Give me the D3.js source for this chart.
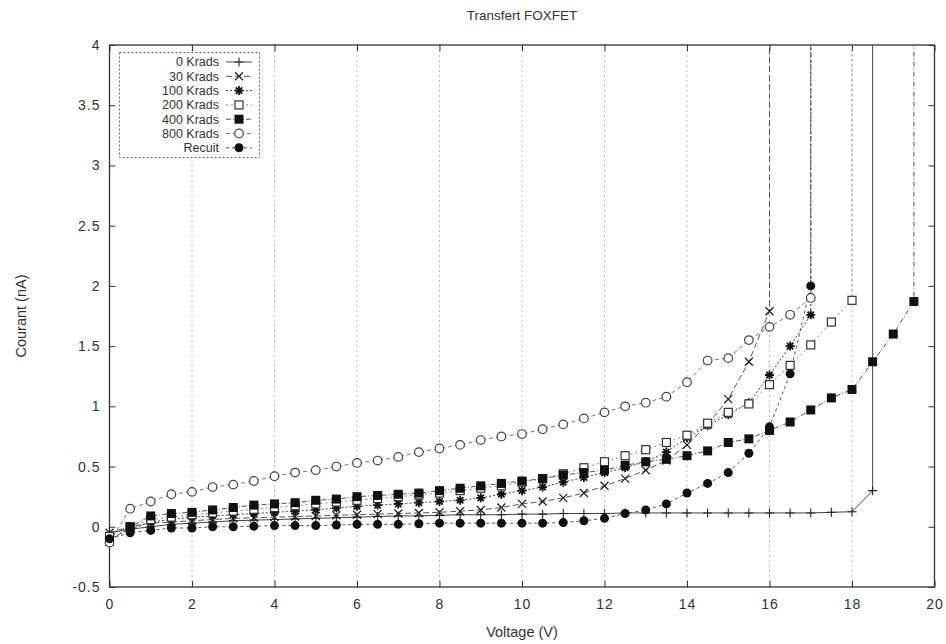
<!DOCTYPE html>
<html>
<head>
<meta charset="utf-8">
<script src="https://cdn.jsdelivr.net/npm/d3@7"></script>
<style>
	body { margin: 0; background: #fff; }
	svg text { font-family: "Liberation Sans", Arial, Helvetica, sans-serif; fill: #333; }
</style>
</head>
<body>
<div id="chart"></div>
<script>
// Transfert FOXFET - courant vs tension, 7 doses
var voltage = [0, 0.5, 1, 1.5, 2, 2.5, 3, 3.5, 4, 4.5, 5, 5.5, 6, 6.5, 7, 7.5, 8, 8.5, 9, 9.5,
	10, 10.5, 11, 11.5, 12, 12.5, 13, 13.5, 14, 14.5, 15, 15.5, 16, 16.5, 17, 17.5, 18, 18.5, 19, 19.5];

var seriesNames = ["0 Krads", "30 Krads", "100 Krads", "200 Krads", "400 Krads", "800 Krads", "Recuit"];

var krads0 = [-0.05, -0.02, 0.0, 0.02, 0.03, 0.04, 0.05, 0.055, 0.06, 0.065, 0.07, 0.075, 0.08, 0.085, 0.09, 0.09,
	0.095, 0.1, 0.1, 0.1, 0.105, 0.105, 0.11, 0.11, 0.11, 0.115, 0.115, 0.115, 0.115, 0.115, 0.115, 0.115,
	0.115, 0.115, 0.115, 0.12, 0.125, 0.3];
var krads30 = [-0.05, 0.0, 0.03, 0.04, 0.05, 0.06, 0.07, 0.075, 0.08, 0.085, 0.09, 0.095, 0.1, 0.105, 0.11, 0.115,
	0.12, 0.13, 0.14, 0.16, 0.19, 0.21, 0.24, 0.28, 0.34, 0.4, 0.47, 0.55, 0.68, 0.85, 1.06, 1.37, 1.79];
var krads100 = [-0.1, -0.02, 0.04, 0.06, 0.08, 0.09, 0.1, 0.11, 0.12, 0.13, 0.14, 0.155, 0.17, 0.18, 0.19, 0.2,
	0.21, 0.22, 0.24, 0.27, 0.3, 0.33, 0.37, 0.41, 0.45, 0.49, 0.54, 0.62, 0.74, 0.84, 0.93, 1.03, 1.26, 1.5, 1.76];
var krads200 = [-0.08, 0.0, 0.06, 0.08, 0.1, 0.115, 0.13, 0.145, 0.16, 0.175, 0.19, 0.205, 0.22, 0.235, 0.25, 0.265,
	0.28, 0.3, 0.32, 0.34, 0.37, 0.4, 0.44, 0.49, 0.54, 0.59, 0.64, 0.7, 0.76, 0.86, 0.95, 1.02, 1.18, 1.34, 1.51, 1.7, 1.88];
var krads400 = [-0.12, 0.0, 0.09, 0.11, 0.12, 0.14, 0.16, 0.18, 0.19, 0.2, 0.22, 0.23, 0.25, 0.26, 0.27, 0.28,
	0.3, 0.32, 0.34, 0.36, 0.38, 0.4, 0.43, 0.45, 0.47, 0.51, 0.54, 0.56, 0.59, 0.63, 0.7, 0.73, 0.8, 0.87, 0.97,
	1.07, 1.14, 1.37, 1.6, 1.87];
var krads800 = [-0.13, 0.15, 0.21, 0.27, 0.29, 0.33, 0.35, 0.38, 0.42, 0.45, 0.47, 0.5, 0.53, 0.55, 0.58, 0.62,
	0.65, 0.68, 0.72, 0.75, 0.77, 0.81, 0.85, 0.9, 0.95, 1.0, 1.03, 1.08, 1.2, 1.38, 1.4, 1.55, 1.66, 1.76, 1.9];
var recuit = [-0.1, -0.05, -0.03, -0.01, -0.01, 0.0, 0.0, 0.005, 0.01, 0.01, 0.01, 0.015, 0.02, 0.02, 0.02, 0.025,
	0.03, 0.03, 0.03, 0.03, 0.03, 0.03, 0.035, 0.05, 0.07, 0.11, 0.14, 0.19, 0.28, 0.36, 0.45, 0.61, 0.83, 1.27, 2.0];

// claquage : le courant sort du cadre a la derniere tension
var breakdownCurrent = 10;

var xTicks = [0, 2, 4, 6, 8, 10, 12, 14, 16, 18, 20];
var yTicks = [-0.5, 0, 0.5, 1, 1.5, 2, 2.5, 3, 3.5, 4];

var width = 946,
	height = 644,
	margin = {
		top : 45,
		right : 11.5,
		bottom : 57,
		left : 109.5
	};

var styles = [
	{ marker : "plus",    stroke : "#444", dash : null },
	{ marker : "cross",   stroke : "#555", dash : "6,3" },
	{ marker : "star",    stroke : "#444", dash : "2,2" },
	{ marker : "box",     stroke : "#888", dash : "2,3" },
	{ marker : "boxF",    stroke : "#555", dash : "5,2,1,2" },
	{ marker : "circle",  stroke : "#777", dash : "4,3" },
	{ marker : "circleF", stroke : "#555", dash : "3,3" }
];

var allValues = [krads0, krads30, krads100, krads200, krads400, krads800, recuit];

var series = allValues.map(function(vals, i) {
	var pts = vals.map(function(v, j) { return { x : voltage[j], y : v }; });
	pts.push({ x : voltage[vals.length - 1], y : breakdownCurrent });
	return { name : seriesNames[i], points : pts, style : styles[i] };
});

var svg = d3.select("#chart").append("svg")
	.attr("width", width)
	.attr("height", height);

var x = d3.scaleLinear().domain([0, 20]).range([margin.left, width - margin.right]);
var y = d3.scaleLinear().domain([-0.5, 4]).range([height - margin.bottom, margin.top]);

var pw = x(20) - x(0),
	ph = y(-0.5) - y(4);

svg.append("clipPath").attr("id", "plotClip")
	.append("rect")
	.attr("x", x(0)).attr("y", y(4))
	.attr("width", pw).attr("height", ph);

// grille verticale
svg.append("g").selectAll("line")
	.data(xTicks.filter(function(d) { return d > 0 && d < 20; }))
	.enter().append("line")
	.attr("x1", function(d) { return x(d); })
	.attr("x2", function(d) { return x(d); })
	.attr("y1", y(-0.5)).attr("y2", y(4))
	.attr("stroke", "#aaa")
	.attr("stroke-width", 0.8)
	.attr("stroke-dasharray", "2,3");

// axes
var xAxis = d3.axisBottom(x).tickValues(xTicks).tickSize(-6).tickPadding(12).tickFormat(d3.format("d"));
var yAxis = d3.axisLeft(y).tickValues(yTicks).tickSize(-6).tickPadding(9).tickFormat(function(d) { return String(d); });

var gx = svg.append("g").attr("transform", "translate(0," + y(-0.5) + ")").call(xAxis);
var gy = svg.append("g").attr("transform", "translate(" + x(0) + ",0)").call(yAxis);

svg.append("g").attr("transform", "translate(0," + y(4) + ")")
	.call(d3.axisTop(x).tickValues(xTicks).tickSize(-6).tickFormat(""));
svg.append("g").attr("transform", "translate(" + x(20) + ",0)")
	.call(d3.axisRight(y).tickValues(yTicks).tickSize(-6).tickFormat(""));

svg.selectAll(".domain").remove();
svg.selectAll(".tick line").attr("stroke", "#333").attr("stroke-width", 1);
svg.selectAll(".tick text")
	.style("font-size", "14px")
	.style("letter-spacing", "1px")
	.style("fill", "#333");

svg.append("rect")
	.attr("x", x(0)).attr("y", y(4))
	.attr("width", pw).attr("height", ph)
	.attr("fill", "none")
	.attr("stroke", "#333")
	.attr("stroke-width", 1.3);

// courbes
var line = d3.line()
	.x(function(d) { return x(d.x); })
	.y(function(d) { return y(d.y); });

var plot = svg.append("g").attr("clip-path", "url(#plotClip)");

series.forEach(function(s) {
	plot.append("path")
		.datum(s.points)
		.attr("d", line)
		.attr("fill", "none")
		.attr("stroke", s.style.stroke)
		.attr("stroke-width", 1)
		.attr("stroke-dasharray", s.style.dash);
});

function drawMarker(g, type, cx, cy) {
	var s = 4.5;
	switch(type) {
		case "plus":
			g.append("path").attr("d", "M" + (cx - s) + "," + cy + "H" + (cx + s) + "M" + cx + "," + (cy - s) + "V" + (cy + s))
				.attr("stroke", "#222").attr("stroke-width", 1.1);
			break;
		case "cross":
			g.append("path").attr("d", "M" + (cx - 4) + "," + (cy - 4) + "L" + (cx + 4) + "," + (cy + 4) +
				"M" + (cx - 4) + "," + (cy + 4) + "L" + (cx + 4) + "," + (cy - 4))
				.attr("stroke", "#222").attr("stroke-width", 1.3);
			break;
		case "star":
			g.append("path").attr("d", "M" + (cx - s) + "," + cy + "H" + (cx + s) + "M" + cx + "," + (cy - s) + "V" + (cy + s) +
				"M" + (cx - 3.2) + "," + (cy - 3.2) + "L" + (cx + 3.2) + "," + (cy + 3.2) +
				"M" + (cx - 3.2) + "," + (cy + 3.2) + "L" + (cx + 3.2) + "," + (cy - 3.2))
				.attr("stroke", "#111").attr("stroke-width", 1.8);
			break;
		case "box":
			g.append("rect").attr("x", cx - 4).attr("y", cy - 4).attr("width", 8).attr("height", 8)
				.attr("fill", "#fff").attr("stroke", "#333").attr("stroke-width", 1.2);
			break;
		case "boxF":
			g.append("rect").attr("x", cx - 4.5).attr("y", cy - 4.5).attr("width", 9).attr("height", 9)
				.attr("fill", "#111");
			break;
		case "circle":
			g.append("circle").attr("cx", cx).attr("cy", cy).attr("r", 4.3)
				.attr("fill", "#fff").attr("stroke", "#444").attr("stroke-width", 1.2);
			break;
		case "circleF":
			g.append("circle").attr("cx", cx).attr("cy", cy).attr("r", 4.5)
				.attr("fill", "#111");
			break;
	}
}

var marks = svg.append("g");
series.forEach(function(s) {
	s.points.forEach(function(p) {
		if (p.y > 4 || p.y < -0.5) return;
		drawMarker(marks, s.style.marker, x(p.x), y(p.y));
	});
});

// legende
var lg = svg.append("g");
lg.append("rect")
	.attr("x", 119.5).attr("y", 52.5)
	.attr("width", 140).attr("height", 105)
	.attr("fill", "#fff")
	.attr("stroke", "#666")
	.attr("stroke-width", 1)
	.attr("stroke-dasharray", "2,2");

series.forEach(function(s, i) {
	var ry = 62 + i * 14.3;
	lg.append("text")
		.attr("x", 219).attr("y", ry)
		.attr("dy", "0.35em")
		.attr("text-anchor", "end")
		.style("font-size", "12.5px")
		.text(s.name);
	lg.append("line")
		.attr("x1", 226).attr("x2", 252)
		.attr("y1", ry).attr("y2", ry)
		.attr("stroke", s.style.stroke)
		.attr("stroke-dasharray", s.style.dash);
	drawMarker(lg, s.style.marker, 239, ry);
});

// titres
svg.append("text")
	.attr("x", 522).attr("y", 20)
	.attr("text-anchor", "middle")
	.style("font-size", "13.5px")
	.text("Transfert FOXFET");

svg.append("text")
	.attr("x", 522).attr("y", 637)
	.attr("text-anchor", "middle")
	.style("font-size", "14.5px")
	.text("Voltage (V)");

svg.append("text")
	.attr("transform", "translate(26," + ((y(4) + y(-0.5)) / 2) + ") rotate(-90)")
	.attr("text-anchor", "middle")
	.style("font-size", "14.5px")
	.text("Courant (nA)");
</script>
</body>
</html>
